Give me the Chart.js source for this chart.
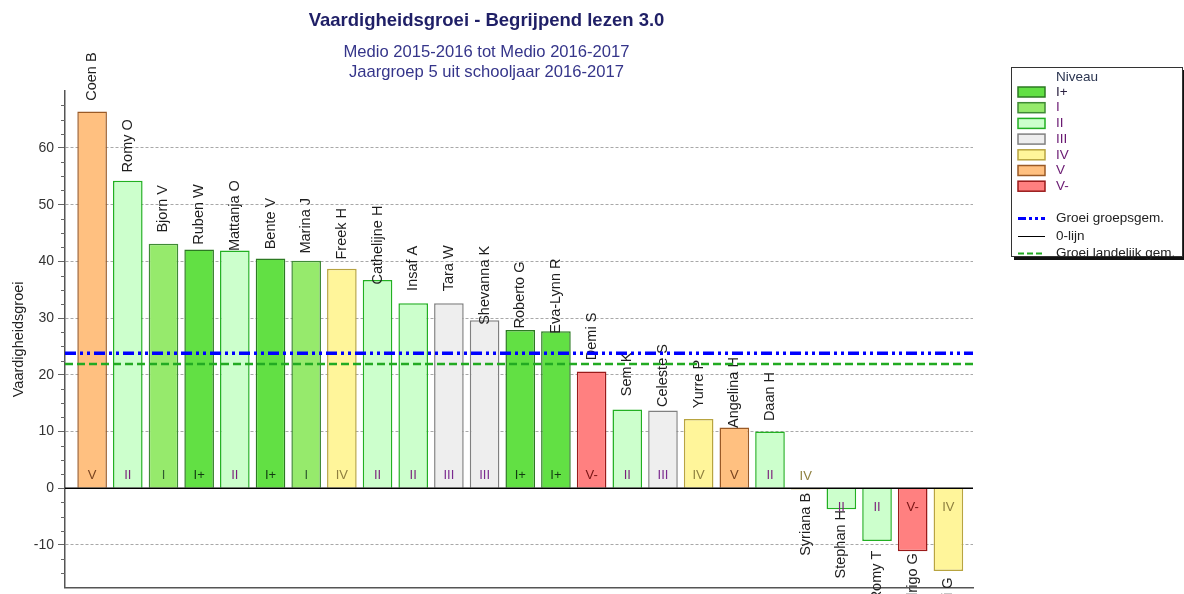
<!DOCTYPE html>
<html>
<head>
<meta charset="utf-8">
<script src="https://cdn.jsdelivr.net/npm/chart.js@4/dist/chart.umd.min.js"></script>
<style>
  html, body { margin: 0; padding: 0; background: #fff; }
  #wrap { width: 1184px; height: 594px; }
</style>
</head>
<body>
<div id="wrap"><canvas id="chart"></canvas></div>
<script>
const students = ['Coen B', 'Romy O', 'Bjorn V', 'Ruben W', 'Mattanja O', 'Bente V', 'Marina J', 'Freek H',
    'Cathelijne H', 'Insaf A', 'Tara W', 'Shevanna K', 'Roberto G', 'Eva-Lynn R', 'Demi S', 'Sem K',
    'Celeste S', 'Yurre P', 'Angelina H', 'Daan H', 'Syriana B', 'Stephan H', 'Romy T', 'Rodrigo G', 'Naomi G'];
const growth = [66.4, 54.2, 43.1, 42.1, 41.9, 40.5, 40.1, 38.7, 36.7, 32.6, 32.6, 29.6, 27.9, 27.7,
    20.6, 13.9, 13.7, 12.2, 10.7, 10.0, -0.2, -3.7, -9.3, -11.1, -14.6];
const levels = ['V', 'II', 'I', 'I+', 'II', 'I+', 'I', 'IV', 'II', 'II', 'III', 'III', 'I+', 'I+',
    'V-', 'II', 'III', 'IV', 'V', 'II', 'IV', 'II', 'II', 'V-', 'IV'];

const levelNames = ['I+', 'I', 'II', 'III', 'IV', 'V', 'V-'];
const levelFill = ['#62e044', '#96ea6c', '#ccffcc', '#eeeeee', '#fff59a', '#ffc080', '#ff8080'];
const levelBorder = ['#2c7a22', '#3f8a35', '#22b022', '#808080', '#b8a440', '#9a5a26', '#9a1a1a'];
const levelText = ['#123a12', '#2f5a2f', '#7b1f7b', '#7b2a8f', '#8f8040', '#7a4420', '#7a1414'];

const groupAvg = 23.8;
const nationalAvg = 21.9;
const yTicks = [-10, 0, 10, 20, 30, 40, 50, 60];
const yMin = -17.5, yMax = 70;
const xMin = 0.24, xMax = 25.69;

const FONT = '"Liberation Sans", Arial, sans-serif';

function levelIdx(i) {
    return levelNames.indexOf(levels[i]);
}

// names above/below bars and level code inside the bar
const barLabels = {
    id: 'barLabels',
    afterDatasetDraw(chart, args) {
        if (args.index !== 0) return;
        const ctx = chart.ctx;
        args.meta.data.forEach((bar, i) => {
            const v = growth[i];
            const up = v >= 0 || Math.abs(bar.base - bar.y) < 20;
            ctx.save();
            ctx.textAlign = 'center';
            ctx.textBaseline = 'middle';
            ctx.font = '13px ' + FONT;
            ctx.fillStyle = levelText[levelIdx(i)];
            ctx.fillText(levels[i], bar.x, up ? bar.base - 12 : bar.base + 19);
            ctx.translate(bar.x, v >= 0 ? bar.y - 35 : bar.y + 35);
            ctx.rotate(-Math.PI / 2);
            ctx.font = '14.5px ' + FONT;
            ctx.fillStyle = '#1e1e1e';
            ctx.fillText(students[i], 0, 0);
            ctx.restore();
        });
    }
};

// small ticks every 2.5 on the y axis
const minorTicks = {
    id: 'minorTicks',
    afterDraw(chart) {
        const s = chart.scales.y;
        const ctx = chart.ctx;
        ctx.save();
        ctx.strokeStyle = '#666';
        ctx.lineWidth = 1;
        for (let v = yMin + 2.5; v < yMax; v += 2.5) {
            if (v % 10 === 0) continue;
            const y = Math.round(s.getPixelForValue(v)) + 0.5;
            ctx.beginPath();
            ctx.moveTo(s.right - 4, y);
            ctx.lineTo(s.right, y);
            ctx.stroke();
        }
        ctx.restore();
    }
};

// boxed legend on the right
const levelLegend = {
    id: 'levelLegend',
    afterDraw(chart) {
        const ctx = chart.ctx;
        const bx = 1011, by = 67, bw = 172, bh = 190;
        ctx.save();
        ctx.fillStyle = '#111';
        ctx.fillRect(bx + 3, by + 3, bw, bh);
        ctx.fillStyle = '#fff';
        ctx.fillRect(bx, by, bw, bh);
        ctx.strokeStyle = '#333';
        ctx.lineWidth = 1;
        ctx.strokeRect(bx + 0.5, by + 0.5, bw - 1, bh - 1);

        ctx.font = '13.5px ' + FONT;
        ctx.textBaseline = 'middle';
        ctx.textAlign = 'left';
        ctx.fillStyle = '#2a3450';
        ctx.fillText('Niveau', 1056, 77);
        levelNames.forEach((name, i) => {
            const y = 92 + i * 15.7;
            ctx.fillStyle = levelFill[i];
            ctx.fillRect(1018, y - 5, 27, 10);
            ctx.strokeStyle = levelBorder[i];
            ctx.lineWidth = 1.5;
            ctx.strokeRect(1018, y - 5, 27, 10);
            ctx.fillStyle = i === 0 ? '#2a2040' : '#6a1a72';
            ctx.fillText(name, 1056, y);
        });

        const lines = [
            {label: 'Groei groepsgem.', color: '#0000ff', width: 3, dash: [8, 3, 3, 3, 3, 3]},
            {label: '0-lijn', color: '#000', width: 1, dash: []},
            {label: 'Groei landelijk gem.', color: '#22aa22', width: 2, dash: [6, 3]}
        ];
        lines.forEach((l, i) => {
            const y = Math.round(218 + i * 17.5) + 0.5;
            ctx.strokeStyle = l.color;
            ctx.lineWidth = l.width;
            ctx.setLineDash(l.dash);
            ctx.beginPath();
            ctx.moveTo(1018, y);
            ctx.lineTo(1045, y);
            ctx.stroke();
            ctx.setLineDash([]);
            ctx.fillStyle = '#222';
            ctx.fillText(l.label, 1056, y);
        });
        ctx.restore();
    }
};

function flatLine(value) {
    return [{x: xMin, y: value}, {x: xMax, y: value}];
}

new Chart(document.getElementById('chart'), {
    type: 'bar',
    data: {
        datasets: [
            {
                type: 'bar',
                data: growth.map((v, i) => ({x: i + 1, y: v})),
                backgroundColor: growth.map((v, i) => levelFill[levelIdx(i)]),
                borderColor: growth.map((v, i) => levelBorder[levelIdx(i)]),
                borderWidth: 1.5,
                barPercentage: 0.83,
                categoryPercentage: 1,
                order: 3
            },
            {
                type: 'line',
                data: flatLine(nationalAvg),
                borderColor: '#22aa22',
                borderWidth: 2.5,
                borderDash: [8, 4],
                pointRadius: 0,
                order: 2
            },
            {
                type: 'line',
                data: flatLine(groupAvg),
                borderColor: '#0000ff',
                borderWidth: 3.5,
                borderDash: [11, 4, 3, 4, 3, 4],
                pointRadius: 0,
                order: 1
            },
            {
                type: 'line',
                data: flatLine(0),
                borderColor: '#000',
                borderWidth: 1.5,
                pointRadius: 0,
                order: 0
            }
        ]
    },
    options: {
        responsive: true,
        maintainAspectRatio: false,
        animation: false,
        layout: {
            padding: {left: 0, right: 211, top: 0, bottom: 6.5}
        },
        plugins: {
            legend: {display: false},
            tooltip: {enabled: false},
            title: {
                display: true,
                text: 'Vaardigheidsgroei - Begrijpend lezen 3.0',
                color: '#1f1f66',
                font: {family: FONT, size: 18.5, weight: 'bold', lineHeight: 1.2},
                padding: {top: 9.5, bottom: 10.5}
            },
            subtitle: {
                display: true,
                text: ['Medio 2015-2016 tot Medio 2016-2017', 'Jaargroep 5 uit schooljaar 2016-2017'],
                color: '#35358a',
                font: {family: FONT, size: 16.6, lineHeight: 1.22},
                padding: {top: 0, bottom: 8.5}
            }
        },
        scales: {
            x: {
                type: 'linear',
                offset: false,
                min: xMin,
                max: xMax,
                ticks: {display: false},
                grid: {display: false, offset: false},
                border: {display: true, color: '#555', width: 1.5},
                afterFit(s) { s.height = 0; }
            },
            y: {
                min: yMin,
                max: yMax,
                afterBuildTicks(s) { s.ticks = yTicks.map(v => ({value: v})); },
                afterFit(s) {
                    s.width = 65;
                    s.paddingTop = 0;
                    s.paddingBottom = 0;
                },
                ticks: {
                    color: '#333',
                    padding: 4,
                    font: {family: FONT, size: 14}
                },
                grid: {
                    color: c => (c.tick && c.tick.value === 0) ? 'rgba(0,0,0,0)' : '#a8a8a8',
                    lineWidth: 1,
                    tickLength: 7,
                    tickColor: '#666'
                },
                border: {display: true, color: '#555', width: 1.5, dash: [3, 2]},
                title: {
                    display: true,
                    text: 'Vaardigheidsgroei',
                    color: '#222',
                    font: {family: FONT, size: 14.5},
                    padding: {top: 10, bottom: 0}
                }
            }
        }
    },
    plugins: [barLabels, minorTicks, levelLegend]
});
</script>
</body>
</html>
